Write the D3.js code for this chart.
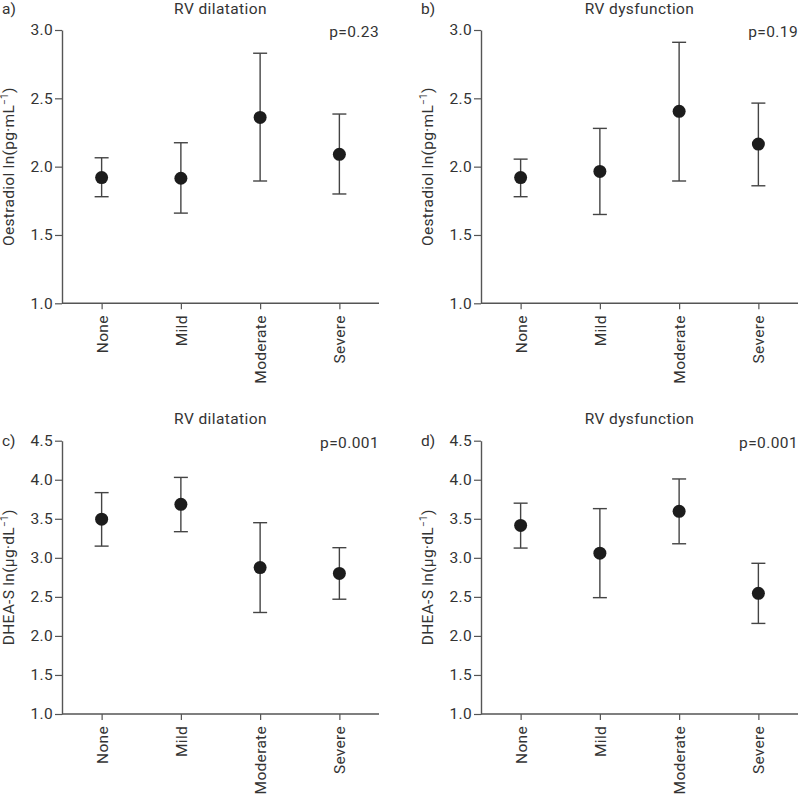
<!DOCTYPE html>
<html>
<head>
<meta charset="utf-8">
<script src="https://cdn.jsdelivr.net/npm/d3@7"></script>
<style>
  body { margin: 0; background: #fff; }
  svg text { font-family: Roboto, "Open Sans", sans-serif; fill: #333; }
</style>
</head>
<body>
<svg id="chart" width="799" height="795"></svg>
<script>
// --- datos ---
const categories = ["None", "Mild", "Moderate", "Severe"];

const oestradiolTicks = [1.0, 1.5, 2.0, 2.5, 3.0];
const dheasTicks = [1.0, 1.5, 2.0, 2.5, 3.0, 3.5, 4.0, 4.5];

const oestradiolDilMean = [1.92, 1.915, 2.36, 2.09];
const oestradiolDilLow  = [1.78, 1.66, 1.895, 1.80];
const oestradiolDilHigh = [2.065, 2.175, 2.83, 2.385];

const oestradiolDysMean = [1.92, 1.965, 2.405, 2.165];
const oestradiolDysLow  = [1.78, 1.65, 1.895, 1.86];
const oestradiolDysHigh = [2.055, 2.28, 2.91, 2.465];

const dheasDilMean = [3.495, 3.685, 2.875, 2.80];
const dheasDilLow  = [3.15, 3.335, 2.30, 2.47];
const dheasDilHigh = [3.835, 4.03, 3.45, 3.13];

const dheasDysMean = [3.415, 3.06, 3.595, 2.545];
const dheasDysLow  = [3.125, 2.49, 3.18, 2.16];
const dheasDysHigh = [3.70, 3.63, 4.01, 2.93];

const svg = d3.select("#chart");
const plotW = 317;
const fontSize = 15.5;

function drawPanel(p) {
    const g = svg.append("g");

    const x = d3.scalePoint()
        .domain(categories)
        .range([p.left, p.left + plotW])
        .padding(0.5);

    const y = d3.scaleLinear()
        .domain([d3.min(p.ticks), d3.max(p.ticks)])
        .range([p.bottom, p.top]);

    // eje y
    const yAxis = g.append("g")
        .attr("transform", `translate(${p.left},0)`)
        .call(d3.axisLeft(y).tickValues(p.ticks).tickFormat(d3.format(".1f")).tickSize(7).tickSizeOuter(0).tickPadding(2));

    // eje x
    const xAxis = g.append("g")
        .attr("transform", `translate(0,${p.bottom})`)
        .call(d3.axisBottom(x).tickSize(6).tickSizeOuter(0));

    [yAxis, xAxis].forEach(a => {
        a.select(".domain").attr("stroke", "#555").attr("stroke-width", 1.4);
        a.selectAll(".tick line").attr("stroke", "#555").attr("stroke-width", 1.2);
        a.selectAll("text").attr("font-size", fontSize).attr("fill", "#333")
            .attr("font-family", "Roboto, sans-serif").style("letter-spacing", "0.3px");
    });
    // el dominio del eje x empieza justo en el eje y
    xAxis.select(".domain").attr("d", `M${p.left},0H${p.left + plotW}`);

    xAxis.selectAll(".tick text")
        .attr("transform", "rotate(-90)")
        .attr("text-anchor", "end")
        .attr("x", -12)
        .attr("y", 0)
        .attr("dy", "0.36em");

    // barras de error
    const rows = categories.map((c, i) => ({c, m: p.mean[i], lo: p.low[i], hi: p.high[i]}));
    const bars = g.append("g").attr("stroke", "#444").attr("stroke-width", 1.4);
    bars.selectAll("line.v").data(rows).join("line")
        .attr("x1", d => x(d.c)).attr("x2", d => x(d.c))
        .attr("y1", d => y(d.lo)).attr("y2", d => y(d.hi));
    bars.selectAll("line.top").data(rows).join("line")
        .attr("x1", d => x(d.c) - 7).attr("x2", d => x(d.c) + 7)
        .attr("y1", d => y(d.hi)).attr("y2", d => y(d.hi));
    bars.selectAll("line.bot").data(rows).join("line")
        .attr("x1", d => x(d.c) - 7).attr("x2", d => x(d.c) + 7)
        .attr("y1", d => y(d.lo)).attr("y2", d => y(d.lo));

    g.append("g").selectAll("circle").data(rows).join("circle")
        .attr("cx", d => x(d.c)).attr("cy", d => y(d.m))
        .attr("r", 6.5).attr("fill", "#1c1c1c");

    // títulos y etiquetas
    g.append("text")
        .attr("x", p.left + plotW / 2).attr("y", p.titleY)
        .attr("text-anchor", "middle").attr("font-size", fontSize)
        .style("letter-spacing", "0.4px")
        .text(p.title);

    g.append("text")
        .attr("x", p.left + plotW).attr("y", p.top + 7)
        .attr("text-anchor", "end").attr("font-size", fontSize)
        .style("letter-spacing", "0.4px")
        .text(p.pval);

    g.append("text")
        .attr("x", p.left - 60).attr("y", p.letterY)
        .attr("font-size", fontSize)
        .text(p.letter);

    const lab = g.append("text")
        .attr("transform", `translate(${p.left - 48},${(p.top + p.bottom) / 2}) rotate(-90)`)
        .attr("text-anchor", "middle").attr("font-size", fontSize)
        .style("letter-spacing", "0.3px");
    lab.append("tspan").text(p.label);
    lab.append("tspan").attr("font-size", 10).attr("dy", -6).text("\u2212" + "1");
    lab.append("tspan").attr("dy", 6).text(")");
}

drawPanel({left: 62, top: 30, bottom: 303.3, ticks: oestradiolTicks,
    mean: oestradiolDilMean, low: oestradiolDilLow, high: oestradiolDilHigh,
    title: "RV dilatation", titleY: 13.5, pval: "p=0.23", letter: "a)", letterY: 13.5,
    label: "Oestradiol ln(pg\u00b7mL"});

drawPanel({left: 481, top: 30, bottom: 303.3, ticks: oestradiolTicks,
    mean: oestradiolDysMean, low: oestradiolDysLow, high: oestradiolDysHigh,
    title: "RV dysfunction", titleY: 13.5, pval: "p=0.19", letter: "b)", letterY: 13.5,
    label: "Oestradiol ln(pg\u00b7mL"});

drawPanel({left: 62, top: 440.7, bottom: 714, ticks: dheasTicks,
    mean: dheasDilMean, low: dheasDilLow, high: dheasDilHigh,
    title: "RV dilatation", titleY: 423.5, pval: "p=0.001", letter: "c)", letterY: 446,
    label: "DHEA-S ln(\u00b5g\u00b7dL"});

drawPanel({left: 481, top: 440.7, bottom: 714, ticks: dheasTicks,
    mean: dheasDysMean, low: dheasDysLow, high: dheasDysHigh,
    title: "RV dysfunction", titleY: 423.5, pval: "p=0.001", letter: "d)", letterY: 446,
    label: "DHEA-S ln(\u00b5g\u00b7dL"});
</script>
</body>
</html>
